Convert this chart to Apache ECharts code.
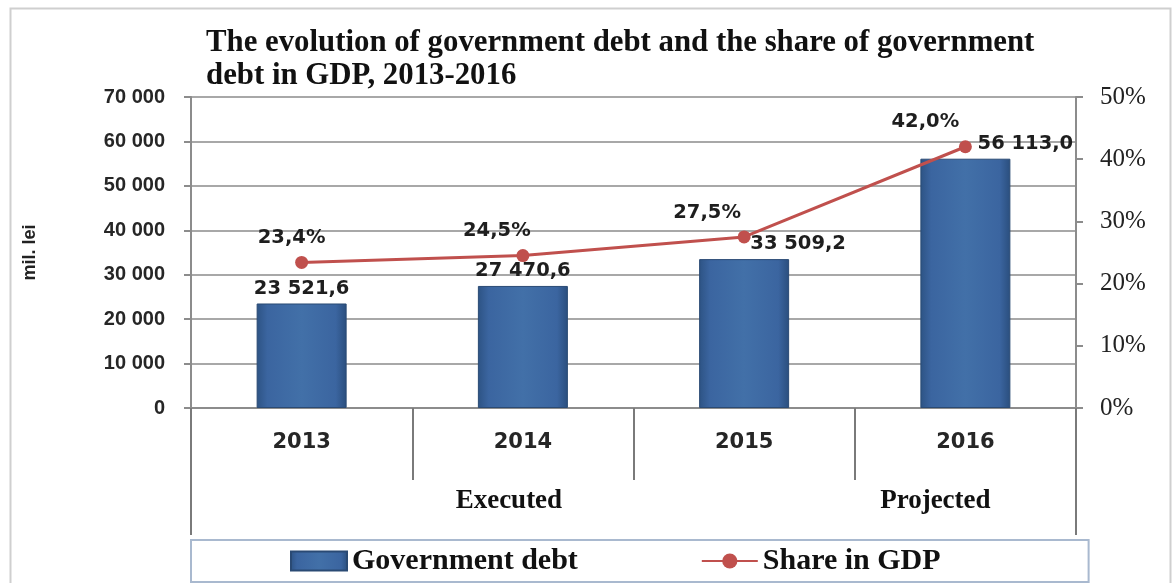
<!DOCTYPE html>
<html>
<head>
<meta charset="utf-8">
<script src="https://cdn.jsdelivr.net/npm/echarts@6/dist/echarts.min.js"></script>
<style>html,body{margin:0;padding:0;background:#fff}#c{width:1176px;height:583px}</style>
</head>
<body>
<div id="c"></div>
<script>
const years = ['2013', '2014', '2015', '2016'];
const groupLabels = ['', 'Executed', '', 'Projected'];
const debtValues = [23521.6, 27470.6, 33509.2, 56113.0];
const shareValues = [23.4, 24.5, 27.5, 42.0];
const leftTicks = [0, 10000, 20000, 30000, 40000, 50000, 60000, 70000];
const rightTicks = [0, 10, 20, 30, 40, 50];

// label placement styles (not data)
const barLabelOffsets = [[0, 0], [0, 0], [54, 0], [60, 0]];
const lineLabelOffsets = [[-10, 0], [-26, 0], [-37, 0], [-40, 0]];
const groupLabelPadding = [[0, 0, 0, 0], [0, 28, 0, 0], [0, 0, 0, 0], [0, 60, 0, 0]];

function fmtNum(v) {
  const parts = v.toFixed(1).split('.');
  const int = parts[0].replace(/\B(?=(\d{3})+(?!\d))/g, ' ');
  return int + ',' + parts[1];
}
function fmtTick(v) {
  return String(v).replace(/\B(?=(\d{3})+(?!\d))/g, ' ');
}

const chart = echarts.init(document.getElementById('c'), null, {renderer: 'canvas'});
const sans = 'DejaVu Sans';
const serif = 'Liberation Serif';
const barGradient = {type: 'linear', x: 0, y: 0, x2: 1, y2: 0, colorStops: [
  {offset: 0, color: '#2d5384'}, {offset: 0.12, color: '#3b65a0'},
  {offset: 0.5, color: '#4270a8'}, {offset: 0.88, color: '#3b65a0'}, {offset: 1, color: '#2a4e7d'}]};

chart.setOption({
  animation: false,
  backgroundColor: '#fff',
  title: {
    text: 'The evolution of government debt and the share of government\ndebt in GDP, 2013-2016',
    left: 201,
    top: 22,
    textStyle: {fontFamily: serif, fontWeight: 'bold', fontSize: 30.8, lineHeight: 33, color: '#111'}
  },
  graphic: [
    {type: 'rect', left: 8, top: 6, shape: {width: 1160, height: 600}, style: {fill: 'none', stroke: '#cfcfcf', lineWidth: 2}, silent: true}
  ],
  grid: {left: 191, right: 100, top: 97, bottom: 175},
  legend: {
    left: 191, top: 540,
    padding: [6, 148, 6, 99],
    itemGap: 123,
    itemWidth: 56, itemHeight: 19,
    borderColor: '#a9b9cf', borderWidth: 2, backgroundColor: '#fff',
    textStyle: {fontFamily: serif, fontWeight: 'bold', fontSize: 30, color: '#111'},
    data: [{name: 'Government debt', icon: 'rect'}, {name: 'Share in GDP'}]
  },
  xAxis: [
    {
      type: 'category', data: years, position: 'bottom',
      axisLine: {show: true, lineStyle: {color: '#8c8c8c', width: 2}},
      axisTick: {show: true, interval: 0, length: 72, lineStyle: {color: '#7a7a7a', width: 2}},
      axisLabel: {margin: 24, fontFamily: sans, fontWeight: 'bold', fontSize: 21, color: '#262626'}
    },
    {
      type: 'category', position: 'bottom', offset: 0,
      data: groupLabels.map((g, i) => ({value: g, textStyle: {padding: groupLabelPadding[i]}})),
      axisLine: {show: false},
      axisTick: {show: true, interval: (i) => i === 0, length: 127, lineStyle: {color: '#7a7a7a', width: 2}},
      axisLabel: {interval: 0, margin: 80, fontFamily: serif, fontWeight: 'bold', fontSize: 27, color: '#111'}
    }
  ],
  yAxis: [
    {
      type: 'value', min: 0, max: 70000, interval: 10000,
      name: 'mil. lei', nameLocation: 'middle', nameRotate: 90, nameGap: 152,
      nameTextStyle: {fontFamily: 'Liberation Sans', fontWeight: 'bold', fontSize: 18, color: '#222'},
      axisLine: {show: true, lineStyle: {color: '#8c8c8c', width: 2}},
      axisTick: {show: true, inside: false, length: 7, lineStyle: {color: '#8c8c8c', width: 2}},
      axisLabel: {margin: 26, fontFamily: 'Liberation Sans', fontWeight: 'bold', fontSize: 20, color: '#262626',
        formatter: (v) => leftTicks.indexOf(v) >= 0 ? fmtTick(v) : ''},
      splitLine: {show: true, lineStyle: {color: '#a8a8a8', width: 2}}
    },
    {
      type: 'value', min: 0, max: 50, interval: 10,
      axisLine: {show: true, lineStyle: {color: '#8c8c8c', width: 2}},
      axisTick: {show: true, length: 7, lineStyle: {color: '#8c8c8c', width: 2}},
      axisLabel: {margin: 24, fontFamily: serif, fontSize: 25, color: '#222',
        formatter: (v) => rightTicks.indexOf(v) >= 0 ? v + '%' : ''},
      splitLine: {show: false}
    }
  ],
  series: [
    {
      name: 'Government debt', type: 'bar', xAxisIndex: 0, yAxisIndex: 0,
      barWidth: 90,
      itemStyle: {color: barGradient, borderColor: '#2a4a74', borderWidth: 1},
      label: {show: true, position: 'top', distance: 5, fontFamily: sans, fontWeight: 'bold', fontSize: 19.5, color: '#1e1e1e',
        formatter: (p) => fmtNum(p.value)},
      data: debtValues.map((v, i) => ({value: v, label: {offset: barLabelOffsets[i]}})),
      z: 2
    },
    {
      name: 'Share in GDP', type: 'line', xAxisIndex: 0, yAxisIndex: 1,
      symbol: 'circle', symbolSize: 13,
      lineStyle: {color: '#c0504d', width: 3},
      itemStyle: {color: '#c0504d'},
      label: {show: true, position: 'top', distance: 8, fontFamily: sans, fontWeight: 'bold', fontSize: 19.5, color: '#1e1e1e',
        formatter: (p) => p.value.toFixed(1).replace('.', ',') + '%'},
      data: shareValues.map((v, i) => ({value: v, label: {offset: lineLabelOffsets[i]}})),
      z: 3
    }
  ]
});
</script>
</body>
</html>
